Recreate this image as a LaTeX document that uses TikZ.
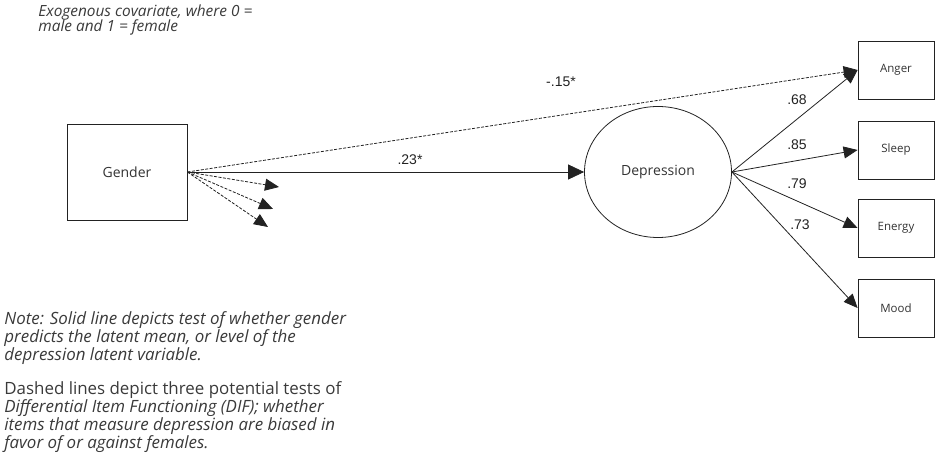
\documentclass[tikz,border=0pt]{standalone}
\usepackage{fontspec}
\setmainfont{Liberation Sans}
\newfontfamily\notefont{Open Sans}
\usetikzlibrary{arrows.meta,shapes.geometric}
\definecolor{ink}{HTML}{222222}
\definecolor{labelgray}{HTML}{333333}
\definecolor{notegray}{HTML}{3a3a3a}
\begin{document}
\begin{tikzpicture}[x=1pt, y=-1pt, line width=0.8pt, draw=ink,
  tip/.style={-{Triangle[length=14pt,width=12pt]}},
  bigtip/.style={-{Triangle[length=16pt,width=15pt]}},
  dif/.style={dash pattern=on 3pt off 1.5pt},
  latent/.style={draw=ink, inner sep=0pt, text=labelgray, font=\notefont\fontsize{14}{16}\selectfont},
  obsbox/.style={draw=ink, minimum width=76pt, minimum height=58pt, inner sep=0pt, text=labelgray, font=\notefont\fontsize{11.5}{13}\selectfont},
  loading/.style={font=\fontsize{14}{16}\selectfont, text=ink},
  note/.style={anchor=north west, align=left, inner sep=0pt, text=notegray, font=\notefont\itshape\fontsize{16.9}{16.6}\selectfont}]
  \useasboundingbox (0,0) rectangle (936,470);

  % covariate and latent factor
  \node[latent, minimum width=120pt, minimum height=96pt] (gender) at (127,172) {Gender};
  \node[latent, ellipse, minimum width=147pt, minimum height=131pt] (depr) at (658,172) {Depression};

  % indicators
  \node[obsbox] (anger) at (896,70) {Anger};
  \node[obsbox] (sleep) at (896,150) {Sleep};
  \node[obsbox] (energy) at (896,228) {Energy};
  \node[obsbox] (mood) at (896,308) {Mood};

  % free ends of the DIF tests
  \coordinate (dif1) at (279,187);
  \coordinate (dif2) at (273,209);
  \coordinate (dif3) at (268,227);

  % structural paths
  \draw[bigtip] (gender.east) -- (depr.west);
  \node[loading] (mnlbl) at (410,160) {.23*};
  \draw[tip, dif] (gender.east) -- (anger.west);
  \node[loading] (diflbl) at (561,82) {-.15*};
  \foreach \t in {dif1,dif2,dif3}
    \draw[tip, dif] (gender.east) -- (\t);

  % loadings
  \foreach \b/\v/\x/\y in {anger/.68/797/100, sleep/.85/797/145, energy/.79/797/184, mood/.73/800/225} {
    \draw[tip] (depr.east) -- (\b.west);
    \node[loading] (l\b) at (\x,\y) {\v};
  }

  % notes
  \node[note, font=\notefont\itshape\fontsize{15.4}{15.6}\selectfont] (exo) at (38,4) {Exogenous covariate, where 0 =\\male and 1 = female};
  \node[note] (solid) at (4,311) {Note: Solid line depicts test of whether gender\\predicts the latent mean, or level of the\\depression latent variable.};
  \node[note] (dashed) at (4,381) {{\upshape Dashed lines depict three potential tests of}\\Differential Item Functioning (DIF); whether\\items that measure depression are biased in\\favor of or against females.};
\end{tikzpicture}
\end{document}
